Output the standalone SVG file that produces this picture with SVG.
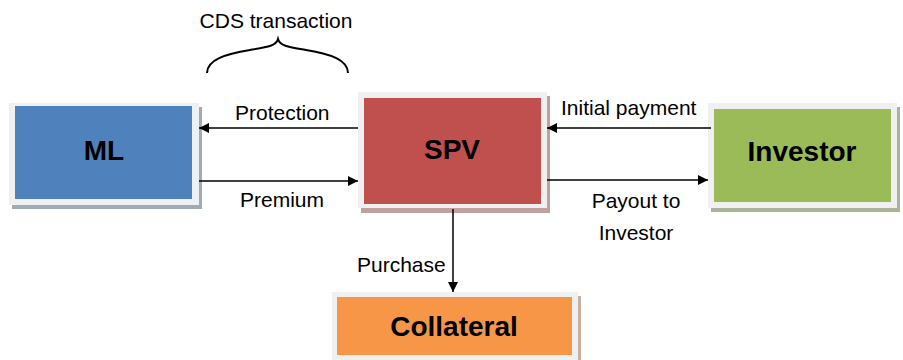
<svg xmlns="http://www.w3.org/2000/svg" width="903" height="360" viewBox="0 0 903 360">
  <defs>
    <marker id="arrow" viewBox="0 0 10 10" refX="10" refY="5" markerWidth="10" markerHeight="10" markerUnits="userSpaceOnUse" orient="auto">
      <path d="M0,0 L10,5 L0,10 Z" fill="#000"/>
    </marker>
  </defs>
  <style>
    .frame { fill: #f0f0f0; }
    .node-label { font-family: "Liberation Sans", Arial, sans-serif; font-weight: bold; font-size: 28px; fill: #000; text-anchor: middle; }
    .edge-label { font-family: "Liberation Sans", Arial, sans-serif; font-size: 21px; fill: #000; }
    .edge { stroke: #000; stroke-width: 1.5; fill: none; marker-end: url(#arrow); }
  </style>
  <rect width="903" height="360" fill="#fff"/>

  <!-- CDS transaction brace -->
  <g id="cds-brace">
    <text class="edge-label" x="276" y="28" text-anchor="middle" font-size="20">CDS transaction</text>
    <path d="M207,73 C207,60 225,54 250,50 C268,47 276,46 278,39 C280,46 288,47 306,50 C331,54 348,60 348,73" fill="none" stroke="#000" stroke-width="2"/>
  </g>

  <g id="ml">
    <rect x="12" y="107" width="190" height="102" fill="#9dabbb"/>
    <rect class="frame" x="9" y="103" width="190" height="102"/>
    <rect x="15" y="106" width="177" height="93" fill="#4f81bd"/>
    <text class="node-label" x="104" y="160">ML</text>
  </g>

  <g id="spv">
    <rect x="361" y="96" width="189" height="117" fill="#c3a0a0"/>
    <rect class="frame" x="358" y="92" width="189" height="116"/>
    <rect x="364" y="98" width="177" height="106" fill="#c0504d"/>
    <text class="node-label" x="452" y="159">SPV</text>
  </g>

  <g id="investor">
    <rect x="711" y="107" width="189" height="105" fill="#a9b59a"/>
    <rect class="frame" x="708" y="103" width="189" height="105"/>
    <rect x="714" y="109" width="177" height="93" fill="#9bbb59"/>
    <text class="node-label" x="802" y="161">Investor</text>
  </g>

  <g id="collateral">
    <rect x="335" y="296" width="246" height="70" fill="#c7b0a0"/>
    <rect class="frame" x="332" y="292" width="246" height="70"/>
    <rect x="337" y="297" width="235" height="58" fill="#f79646"/>
    <text class="node-label" x="454" y="336">Collateral</text>
  </g>

  <g id="connectors">
    <line class="edge" x1="358" y1="128" x2="199" y2="128"/>
    <line class="edge" x1="199" y1="181" x2="358" y2="181"/>
    <line class="edge" x1="711" y1="128" x2="547" y2="128"/>
    <line class="edge" x1="547" y1="180" x2="708" y2="180"/>
    <line class="edge" x1="453" y1="209" x2="453" y2="292"/>
    <text class="edge-label" x="235" y="120">Protection</text>
    <text class="edge-label" x="240" y="207">Premium</text>
    <text class="edge-label" x="561" y="115">Initial payment</text>
    <text class="edge-label" x="636" y="208" text-anchor="middle">Payout to</text>
    <text class="edge-label" x="636" y="240" text-anchor="middle">Investor</text>
    <text class="edge-label" x="357" y="272">Purchase</text>
  </g>
</svg>
